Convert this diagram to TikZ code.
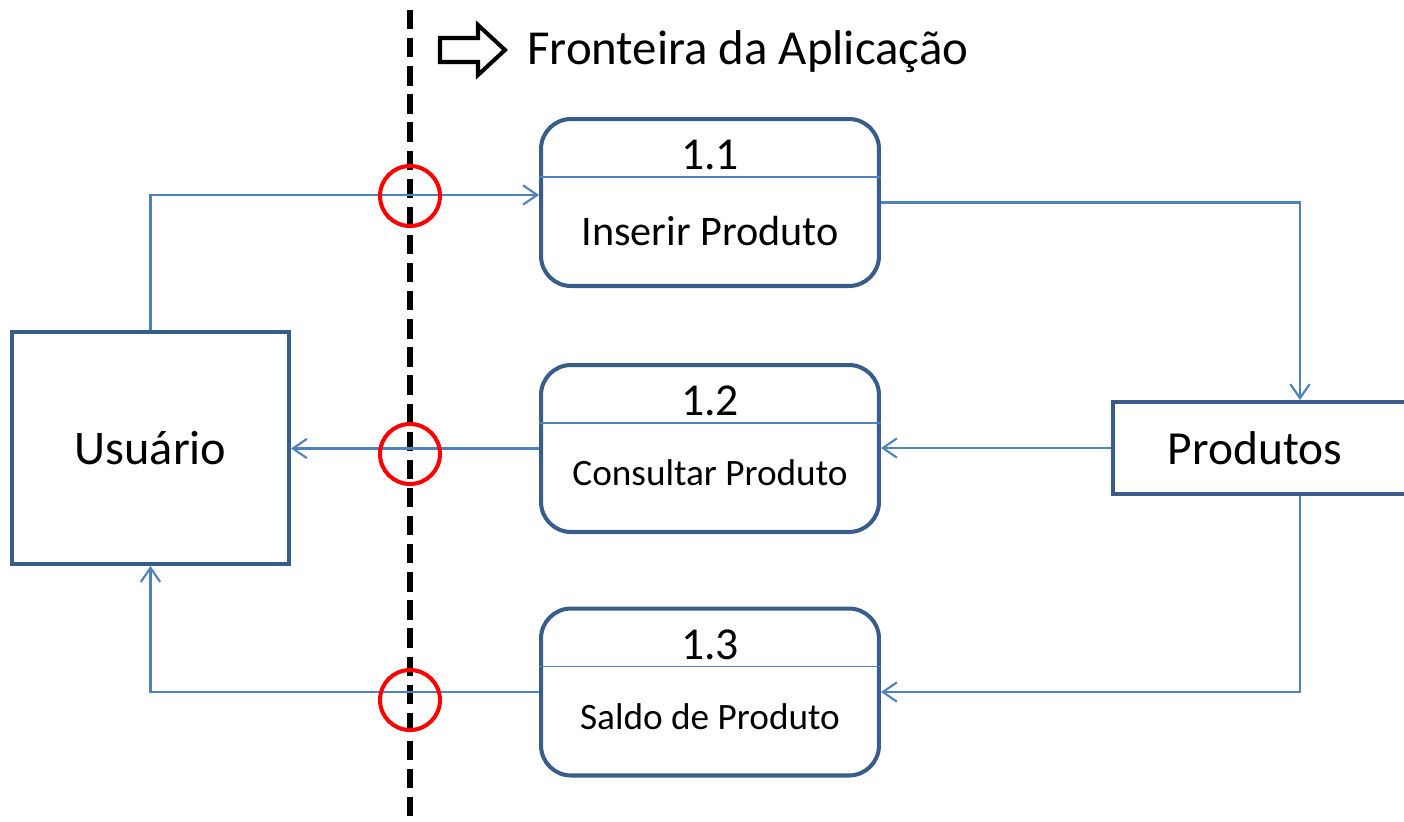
\documentclass[tikz,border=0pt]{standalone}
\usepackage{fontspec}
\setmainfont{Carlito}
\usetikzlibrary{arrows.meta, positioning}
\definecolor{boxblue}{RGB}{56,93,138}
\definecolor{flowblue}{RGB}{79,129,189}
\definecolor{crossred}{RGB}{255,0,0}

\begin{document}
\begin{tikzpicture}[x=0.02cm, y=-0.02cm,
    entity/.style={draw=boxblue, line width=2.3pt, minimum width=5.54cm, minimum height=4.64cm, inner sep=0pt, font=\fontsize{27.5}{32}\selectfont},
    store/.style={draw=boxblue, line width=2.3pt, minimum width=6.14cm, minimum height=1.84cm, inner sep=0pt},
    proc/.style={draw=boxblue, line width=2.3pt, rounded corners=0.6cm, minimum width=6.76cm, minimum height=3.34cm},
    divline/.style={draw=flowblue, line width=0.8pt},
    flow/.style={draw=flowblue, line width=1.2pt, -{Straight Barb[length=8pt, width=11pt]}},
    cross/.style={circle, draw=crossred, line width=2.3pt, minimum size=1.2cm, inner sep=0pt},
    boundary/.style={draw=black, line width=3pt, dash pattern=on 11pt off 5pt},
    hollow/.style={draw=black, line width=2.3pt, line join=miter}]
    \useasboundingbox (0,0) rectangle (1404,822);

    % Fronteira da aplicacao
    \draw[boundary] (410,10) -- (410,822);
    \draw[hollow] (440,38) -- (478,38) -- (478,25) -- (505,50) -- (478,75) -- (478,62) -- (440,62) -- cycle;
    \node[anchor=base west, inner sep=0pt, font=\fontsize{27.8}{32}\selectfont] (front) at (527,64) {Fronteira da Aplicação};

    % Entidade e depositos
    \node[entity] (usu) at (150.5,448) {Usuário};
    \node[store] (prod) at (1266,448) {};
    \node[font=\fontsize{27}{32}\selectfont] (prodtxt) at (1255,448) {Produtos};

    % Processos
    \foreach \i/\y/\txt/\fs/\ty in {1/202.5/Inserir Produto/24/2.58, 2/448.5/Consultar Produto/21.2/2.46, 3/692/Saldo de Produto/21.2/2.46} {
        \node[proc] (p\i) at (710,\y) {};
        \draw[divline] ([yshift=-1.2cm]p\i.north west) -- ([yshift=-1.2cm]p\i.north east);
        \node[anchor=base, inner sep=0pt, font=\fontsize{26}{30}\selectfont] (n\i) at ([yshift=-1.06cm]p\i.north) {1.\i};
        \node[anchor=base, inner sep=0pt, font=\fontsize{\fs}{26}\selectfont] (t\i) at ([yshift=-\ty cm]p\i.north) {\txt};
    }

    % Cruzamentos da fronteira
    \coordinate (c1) at (410,196);
    \coordinate (c2) at (410,454);
    \coordinate (c3) at (410,700);

    % Fluxos
    \draw[flow] (usu.north) |- (p1.west |- 0,195);
    \draw[flow] (p1.east) -| ([xshift=0.68cm]prod.north);
    \draw[flow] (prod.west) -- (p2.east |- prod.west);
    \draw[flow] (p2.west) -- (usu.east |- p2.west);
    \draw[flow] ([xshift=0.68cm]prod.south) |- (p3.east);
    \draw[flow] (p3.west) -| (usu.south);

    \foreach \i in {1,2,3}
        \node[cross] (k\i) at (c\i) {};
\end{tikzpicture}
\end{document}
